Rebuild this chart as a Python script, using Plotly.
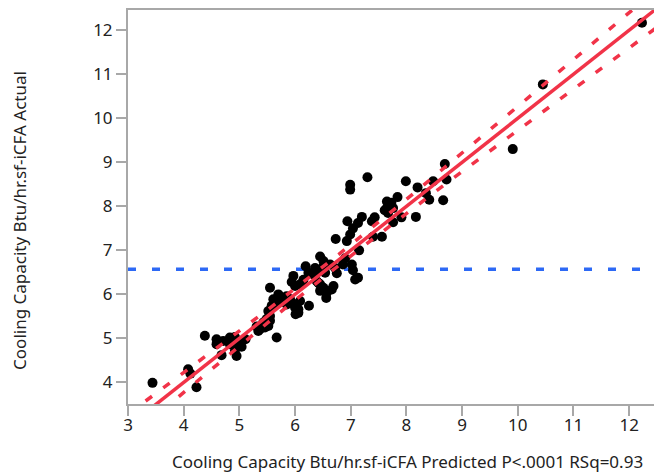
import numpy as np
import plotly.graph_objects as go

# Predicted (x) and actual (y) values
predicted = [12.23, 10.45, 9.91, 8.69, 8.72, 8.66, 8.48, 8.20, 7.99, 8.35, 8.41, 8.17, 7.30, 6.99, 6.99,
             7.84, 7.65, 7.73, 7.65, 7.76, 7.67, 7.61, 7.91, 7.76, 7.43, 7.38, 7.20, 7.13, 6.94, 7.04,
             6.99, 6.93, 6.73, 7.40, 7.56, 7.15, 6.90, 7.02, 7.04, 7.13, 7.08, 6.45, 6.51, 6.19, 6.24,
             6.33, 6.39, 6.63, 6.72, 6.75, 6.86, 5.97, 5.94, 6.00, 6.09, 6.15, 6.39, 6.45, 6.51, 6.57,
             6.66, 6.69, 6.56, 6.45, 5.55, 5.70, 5.79, 5.85, 5.91, 5.61, 5.58, 5.64, 5.85, 5.94, 6.03,
             6.06, 6.01, 6.25, 5.52, 5.55, 5.49, 5.55, 5.43, 5.52, 5.31, 5.37, 5.46, 5.67, 4.83, 4.92,
             4.89, 5.01, 5.11, 4.71, 4.38, 4.59, 4.59, 4.68, 4.83, 4.95, 4.92, 4.95, 5.04, 5.34, 3.44,
             4.08, 4.12, 4.23, 5.73, 6.09, 6.54, 6.36, 6.51, 6.00, 6.06, 6.42]
actual = [12.17, 10.77, 9.30, 8.96, 8.61, 8.14, 8.57, 8.43, 8.57, 8.30, 8.15, 7.76, 8.66, 8.49, 8.38,
          8.21, 8.11, 8.08, 7.96, 7.96, 7.85, 7.91, 7.75, 7.64, 7.75, 7.66, 7.76, 7.62, 7.66, 7.50,
          7.36, 7.21, 7.26, 7.31, 7.31, 7.00, 6.82, 6.68, 6.55, 6.38, 6.34, 6.86, 6.76, 6.64, 6.49,
          6.45, 6.53, 6.68, 6.60, 6.48, 6.68, 6.42, 6.28, 6.19, 6.23, 6.33, 6.30, 6.23, 6.15, 6.04,
          6.11, 6.19, 5.92, 6.08, 6.15, 6.00, 5.92, 5.96, 5.89, 5.89, 5.74, 5.81, 5.77, 5.81, 5.77,
          5.66, 5.55, 5.74, 5.62, 5.51, 5.44, 5.40, 5.36, 5.28, 5.27, 5.21, 5.25, 5.02, 5.02, 5.03,
          4.91, 4.94, 4.98, 4.94, 5.06, 4.98, 4.87, 4.62, 4.87, 4.83, 4.72, 4.60, 4.81, 5.17, 3.99,
          4.30, 4.20, 3.89, 5.85, 5.85, 6.49, 6.60, 6.64, 5.70, 5.58, 6.26]

mean_actual = 6.57          # horizontal mean line
band_center = 6.57          # centre of confidence curves
band_a = 0.015              # squared half-width at centre
band_b = 0.0049             # growth of squared half-width

x_range = [3, 12.5]
y_range = [3.51, 12.46]
x_ticks = [3, 4, 5, 6, 7, 8, 9, 10, 11, 12]
y_ticks = [4, 5, 6, 7, 8, 9, 10, 11, 12]

x_title = "Cooling Capacity Btu/hr.sf-iCFA Predicted P<.0001 RSq=0.93"
y_title = "Cooling Capacity Btu/hr.sf-iCFA Actual"

RED = "rgb(241,51,72)"
BLUE = "rgb(45,105,245)"
FONT = "Noto Sans"
TXT = "#222222"
AX = "#A8A8A8"

xs = np.linspace(x_range[0], x_range[1], 300)
hw = np.sqrt(band_a + band_b * (xs - band_center) ** 2)

fig = go.Figure()
fig.add_trace(go.Scatter(x=x_range, y=[mean_actual, mean_actual], mode="lines",
                         line=dict(color=BLUE, width=3.5, dash="8px,16px"), hoverinfo="skip"))
fig.add_trace(go.Scatter(x=predicted, y=actual, mode="markers",
                         marker=dict(color="black", size=10, line=dict(width=0))))
fig.add_trace(go.Scatter(x=xs, y=xs, mode="lines", line=dict(color=RED, width=3.5), hoverinfo="skip"))
fig.add_trace(go.Scatter(x=xs, y=xs + hw, mode="lines",
                         line=dict(color=RED, width=3.5, dash="8px,14px"), hoverinfo="skip"))
fig.add_trace(go.Scatter(x=xs, y=xs - hw, mode="lines",
                         line=dict(color=RED, width=3.5, dash="8px,14px"), hoverinfo="skip"))

axis_common = dict(showgrid=False, zeroline=False, showline=True, linecolor=AX, linewidth=2,
                   mirror=True, ticks="outside", ticklen=10, tickwidth=2, tickcolor=AX,
                   tickfont=dict(family=FONT, size=17, color=TXT),
                   minor=dict(ticks="outside", ticklen=5, tickwidth=2, tickcolor=AX, nticks=2))

fig.update_xaxes(range=x_range, tickvals=x_ticks, ticktext=[str(v) for v in x_ticks],
                 ticklabelstandoff=-5, **axis_common)
fig.update_yaxes(range=y_range, tickvals=y_ticks, ticktext=[str(v) for v in y_ticks],
                 **axis_common)

# the page body adds an 8px offset; figure sized to fill the remaining window
W, H = 654, 466
L, R, T, B = 120, 5, 0, 70
pw, ph = W - L - R, H - T - B

fig.update_layout(
    width=W, height=H,
    margin=dict(l=L, r=R, t=T, b=B),
    paper_bgcolor="white", plot_bgcolor="white",
    showlegend=False,
    annotations=[
        dict(text=x_title, xref="paper", yref="paper", x=(162 - L) / pw, y=-(454 - (H - B)) / ph,
             xanchor="left", yanchor="middle", showarrow=False,
             font=dict(family=FONT, size=17, color=TXT)),
        dict(text=y_title, xref="paper", yref="paper", x=(12 - L) / pw, y=((H - B) - 212) / ph,
             xanchor="center", yanchor="middle", textangle=-90, showarrow=False,
             font=dict(family=FONT, size=17, color=TXT)),
    ],
)

fig.write_html("out.html")
